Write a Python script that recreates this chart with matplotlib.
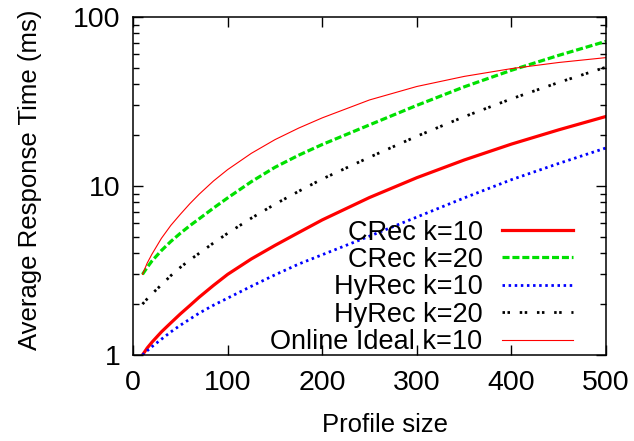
import matplotlib
matplotlib.use("Agg")
import matplotlib.pyplot as plt
from matplotlib.ticker import FixedLocator, NullFormatter, LogLocator

plt.rcParams['font.family'] = ['Liberation Sans', 'DejaVu Sans']

profile_size = [10, 15, 20, 30, 40, 50, 60, 70, 85, 100, 125, 150, 175, 200, 250, 300, 350, 400, 450, 500]

crec_k10 = [1.0, 1.1, 1.19, 1.37, 1.55, 1.75, 1.96, 2.2, 2.58, 3.0, 3.7, 4.45, 5.3, 6.3, 8.55, 11.2, 14.25, 17.7, 21.5, 25.8]
crec_k20 = [3.0, 3.3, 3.6, 4.15, 4.7, 5.25, 5.82, 6.4, 7.4, 8.5, 10.6, 12.9, 15.2, 17.6, 23.0, 30.0, 38.6, 48.4, 59.3, 71.8]
hyrec_k10 = [1.0, 1.06, 1.12, 1.24, 1.37, 1.5, 1.63, 1.77, 1.97, 2.17, 2.55, 2.98, 3.45, 3.92, 5.05, 6.55, 8.5, 10.9, 13.6, 16.8]
hyrec_k20 = [2.0, 2.15, 2.3, 2.6, 2.95, 3.3, 3.65, 4.0, 4.6, 5.25, 6.45, 7.8, 9.3, 11.0, 14.8, 19.7, 25.7, 32.8, 41.0, 50.5]
online_ideal_k10 = [3.0, 3.5, 3.95, 4.9, 5.85, 6.8, 7.85, 8.95, 10.7, 12.5, 15.6, 18.8, 22.0, 25.3, 32.3, 38.8, 44.5, 49.5, 53.8, 57.5]

labels = ["CRec k=10", "CRec k=20", "HyRec k=10", "HyRec k=20", "Online Ideal k=10"]
x_ticks = [0, 100, 200, 300, 400, 500]
y_ticks = [1, 10, 100]

fig = plt.figure(figsize=(6.34, 4.41), dpi=100)
ax = fig.add_axes([0.2098, 0.195, 0.956 - 0.2098, 0.9615 - 0.195])

ax.plot(profile_size, crec_k10, color='#ff0000', lw=2.3, ls='-', label=labels[0])
ax.plot(profile_size, crec_k20, color='#00e000', lw=2.3, ls=(0, (2.2, 0.9)), label=labels[1])
ax.plot(profile_size, hyrec_k10, color='#0000ff', lw=2.0, ls=(0, (0.9, 1.3)), label=labels[2])
ax.plot(profile_size, hyrec_k20, color='#000000', lw=2.0, ls=(0, (0.9, 0.9, 0.9, 3.5)), label=labels[3])
ax.plot(profile_size, online_ideal_k10, color='#ff0000', lw=0.8, ls='-', label=labels[4])

ax.set_yscale('log')
ax.set_xlim(0, 500)
ax.set_ylim(1, 100)
ax.xaxis.set_major_locator(FixedLocator(x_ticks))
ax.yaxis.set_major_locator(FixedLocator(y_ticks))
ax.set_yticklabels([str(v) for v in y_ticks])
ax.yaxis.set_minor_locator(LogLocator(base=10, subs=range(2, 10)))
ax.yaxis.set_minor_formatter(NullFormatter())

ax.tick_params(which='both', direction='in', top=True, right=True, labelsize=20.5, width=1.0)
ax.tick_params(which='major', length=7)
ax.tick_params(axis='x', which='major', pad=11)
ax.tick_params(axis='y', which='major', pad=9)
ax.tick_params(which='minor', length=4)
for s in ax.spines.values():
    s.set_linewidth(1.1)

ax.set_xlabel("Profile size", fontsize=18.5, va='center')
ax.set_ylabel("Average Response Time (ms)", fontsize=18.5, va='center')
ax.xaxis.set_label_coords(0.533, -0.207)
ax.yaxis.set_label_coords(-0.218, 0.519)

leg = ax.legend(loc='lower right', bbox_to_anchor=(0.930, 0.0), markerfirst=False,
                frameon=False, fontsize=19.5, handlelength=2.62, handletextpad=0.72,
                labelspacing=0.05, borderpad=0.0, borderaxespad=0.0)

fig.savefig("out.png", dpi=100)
